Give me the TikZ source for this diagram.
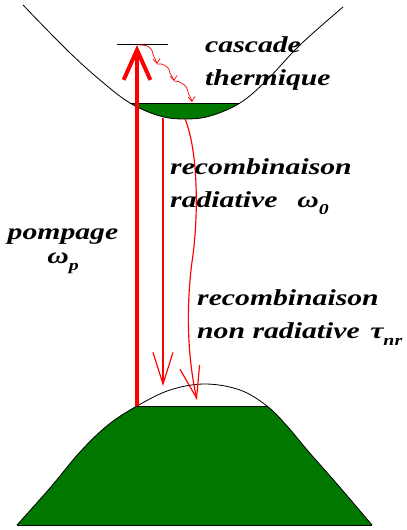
\documentclass[tikz,border=0pt]{standalone}
\usepackage{fontspec}
\newfontfamily\lblfont[FakeStretch=1.3, UprightFont=*, BoldFont=* Bold, ItalicFont=* Italic, BoldItalicFont=* Bold Italic]{Liberation Serif}
\usetikzlibrary{arrows.meta, positioning}
\definecolor{bandgreen}{RGB}{0,120,0}
\newcommand{\lsub}[1]{\raisebox{-6pt}{\fontsize{13pt}{13pt}\selectfont #1}}

\begin{document}
\begin{tikzpicture}[
  x=0.03cm, y=-0.03cm,
  band/.style={draw=black, line width=0.7pt},
  bandfill/.style={fill=bandgreen},
  pump/.style={
    red,
    line width=3.4pt,
    -{Straight Barb[length=0.9cm, width=0.8cm, line width=3.4pt]}
  },
  casc/.style={
    red,
    line width=0.6pt,
    -{Straight Barb[length=4pt, width=6pt]}
  },
  recomb/.style={
    draw=red,
    line width=1pt,
    -{Straight Barb[length=0.95cm, width=0.6cm]}
  },
  lbl/.style={
    font=\lblfont\bfseries\itshape\fontsize{19.5pt}{28pt}\selectfont,
    align=left,
    inner sep=0pt,
    anchor=base west
  }
]
\useasboundingbox (0,0) rectangle (406,530);

% ============================================================
% Conduction band (top)
% ============================================================

\begin{scope}
  \clip (0,103) rectangle (406,130);
  \fill[bandfill] plot[smooth, tension=0.6] coordinates {(23,5) (67,50) (100,80) (130,103) (160,116) (185,119) (210,116) (240,103) (267,80) (300,45) (343,7)} -- cycle;
\end{scope}
\draw[band] plot[smooth, tension=0.6] coordinates {(23,5) (67,50) (100,80) (130,103) (160,116) (185,119) (210,116) (240,103) (267,80) (300,45) (343,7)};

\coordinate (cbL) at (130,103);
\coordinate (cbR) at (240,103);
\draw[band] (cbL) -- (cbR);

% ============================================================
% Valence band (bottom)
% ============================================================

\begin{scope}
  \clip (0,406) rectangle (406,526);
  \fill[bandfill] plot[smooth, tension=0.6] coordinates {(17,525) (50,488) (80,452) (108,425) (137,406) (170,390) (205,384) (240,390) (267,406) (287,426) (308,451) (337,484) (372,525)} -- cycle;
\end{scope}
\draw[band] plot[smooth, tension=0.6] coordinates {(17,525) (50,488) (80,452) (108,425) (137,406) (170,390) (205,384) (240,390) (267,406) (287,426) (308,451) (337,484) (372,525)};

\coordinate (vbL) at (137,406);
\coordinate (vbR) at (267,406);
\coordinate (vbBL) at (17,525);
\coordinate (vbBR) at (372,525);
\draw[band] (vbL) -- (vbR);
\draw[band] (vbBL) -- (vbBR);

% ============================================================
% Pumping and thermal cascade
% ============================================================

\coordinate (lvlL) at (117,44);
\coordinate (lvlR) at (168,44);
\draw[band] (lvlL) -- (lvlR);

\coordinate (pumpbase) at (137,406);
\coordinate (pumptop) at (137,45);
\draw[pump] (pumpbase) -- (pumptop);

\coordinate (c0) at (139,45);
\coordinate (c1) at (157,64);
\coordinate (c2) at (174,81);
\coordinate (c3) at (192,102);
\draw[casc] (c0) to[out=0,in=150] (149,47) to[out=-30,in=100] (153,54)
  to[out=-80,in=95] (c1);
\draw[casc] (c1) to[out=10,in=150] (166,66) to[out=-30,in=100] (170,73)
  to[out=-80,in=95] (c2);
\draw[casc] (c2) to[out=10,in=150] (183,84) to[out=-30,in=100] (188,92)
  to[out=-80,in=95] (c3);

% ============================================================
% Recombinations
% ============================================================

\coordinate (radtop) at (163,118);
\coordinate (radbot) at (163,386);
\draw[recomb] (radtop) -- (radbot);

\coordinate (nrtop) at (185,119);
\coordinate (nrmid) at (192,262);
\coordinate (nrbot) at (197,400);
\draw[recomb] (nrtop) .. controls (198,150) and (199,215) .. (nrmid)
  .. controls (187,300) and (186,350) .. (nrbot);

% ============================================================
% Labels
% ============================================================

\node[lbl] (casctxt) at (205,85) {cascade\\thermique};
\node[lbl] (radtxt) at (170,207) {recombinaison\\radiative\hspace{17pt}ω\lsub{0}};
\node[lbl, align=center, anchor=base] (pumptxt) at (63,263) {pompage\\[-8pt]ω\lsub{p}};
\node[lbl] (nrtxt) at (197,338) {recombinaison\\non radiative\hspace{9pt}τ\lsub{nr}};

\end{tikzpicture}
\end{document}
